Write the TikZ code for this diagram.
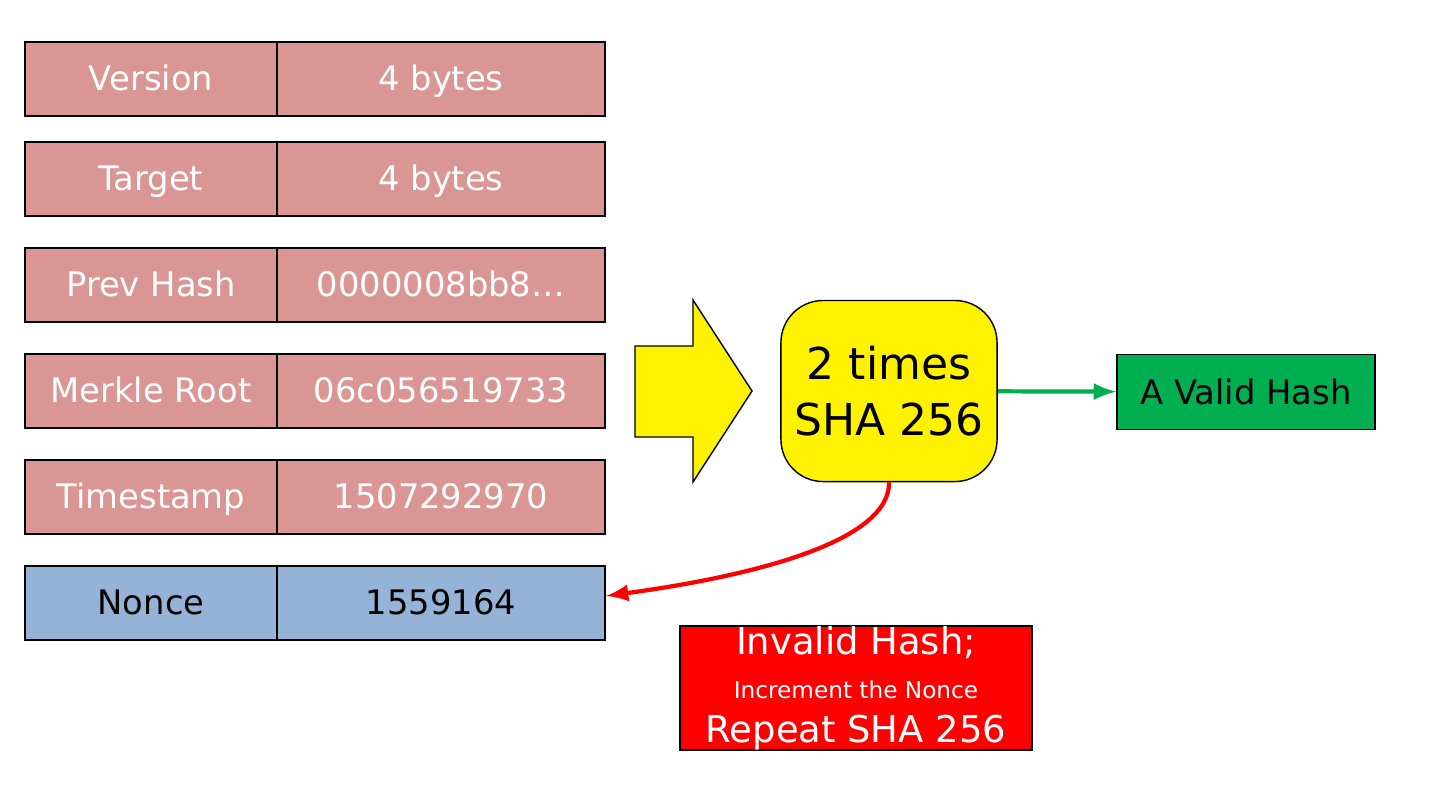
\documentclass[tikz,border=0pt]{standalone}
\usepackage{fontspec}
\setmainfont{DejaVu Sans}
\usepackage{tikz}
\usetikzlibrary{positioning}
\definecolor{fieldpink}{HTML}{D99694}
\definecolor{fieldblue}{HTML}{95B3D7}
\definecolor{validgreen}{HTML}{00B050}
\begin{document}
\begin{tikzpicture}[x=0.01cm, y=-0.01cm,
        key/.style={rectangle, draw=black, fill=fieldpink, text=white, minimum width=2.52cm, minimum height=0.74cm, text height=1.5ex, text depth=.3ex, inner sep=0pt, font=\fontsize{9.6}{12}\selectfont},
        val/.style={key, minimum width=3.28cm},
        hasher/.style={rectangle, rounded corners=12pt, draw=black, fill=yellow, minimum width=2.16cm, minimum height=1.81cm, inner sep=0pt, font=\fontsize{12.5}{16}\selectfont, align=center}
      ]
        \useasboundingbox (0,0) rectangle (1440,793);
        % header fields
        \foreach \y/\k/\v [count=\i] in {79/Version/4 bytes, 179/Target/4 bytes, 285/Prev Hash/0000008bb8\ldots, 391/Merkle Root/06c056519733, 497/Timestamp/1507292970}{
          \node[key] (key\i) at (151,\y) {\k};
          \node[val] (val\i) at (441,\y) {\v};
        }
        \node[key, fill=fieldblue, text=black] (noncekey) at (151,603) {Nonce};
        \node[val, fill=fieldblue, text=black] (nonceval) at (441,603) {1559164};

        % big arrow
        \draw[fill=yellow] (635,346) -- (693,346) -- (693,300) -- (752,391) -- (693,482) -- (693,437) -- (635,437) -- cycle;

        \node[hasher] (sha) at (889,391) {2 times\\SHA 256};
        \node[rectangle, draw=black, fill=validgreen, minimum width=2.58cm, minimum height=0.75cm, font=\fontsize{9.6}{12}\selectfont] (valid) at (1246,392) {A Valid Hash};
        \node[rectangle, draw=black, fill=red, text=white, minimum width=3.52cm, minimum height=1.19cm, align=center, inner sep=0pt, font=\fontsize{10.5}{12.5}\selectfont] (invalid) at (856,688)
          {Invalid Hash;\\{\fontsize{6.6}{11}\selectfont Increment the Nonce}\\Repeat SHA 256};

        \draw[->, very thick, validgreen, >=latex] (sha) -- (valid);
        \draw[->, very thick, red, >=latex] (sha.south) .. controls (890,540) and (760,575) .. ([yshift=2pt]nonceval.east);
      \end{tikzpicture}
\end{document}
